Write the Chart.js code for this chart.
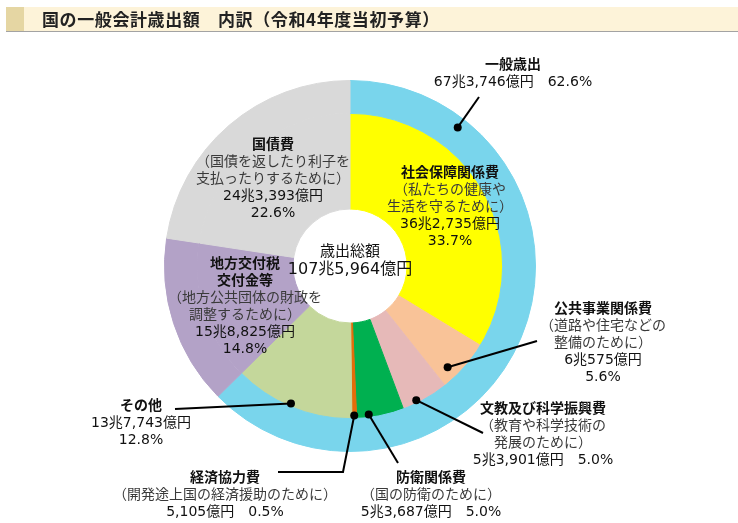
<!DOCTYPE html>
<html lang="ja">
<head>
<meta charset="utf-8">
<title>国の一般会計歳出額 内訳</title>
<script src="https://cdn.jsdelivr.net/npm/chart.js@4.4.1/dist/chart.umd.min.js"></script>
<style>
  html, body { margin: 0; padding: 0; background: #fff; }
  body { width: 738px; height: 523px; position: relative; overflow: hidden;
         font-family: "Noto Sans CJK JP", "Noto Sans", sans-serif; }
  #titleBar { position: absolute; left: 6px; top: 7px; width: 732px; height: 24px;
              background: #fdf3d9; border-bottom: 1px solid #a3a3a3; z-index: 2; }
  #titleBar .mark { position: absolute; left: 0; top: 0; width: 18px; height: 24px; background: #e5d6a3; }
  #titleBar h1 { position: absolute; left: 36px; top: 0; margin: 0; line-height: 24px;
                 font-size: 17px; font-weight: bold; color: #222; letter-spacing: 0.6px; white-space: nowrap; }
  #chart { position: absolute; left: 0; top: 0; }
</style>
</head>
<body>
<div id="titleBar"><div class="mark"></div><h1>国の一般会計歳出額　内訳（令和4年度当初予算）</h1></div>
<canvas id="chart" width="738" height="523"></canvas>
<script>
// ============= DATA =============
// 内訳（内側の輪）— 金額は億円
const categories = ['社会保障関係費', '公共事業関係費', '文教及び科学振興費', '防衛関係費',
                    '経済協力費', 'その他', '地方交付税交付金等', '国債費'];
const amounts = [362735, 60575, 53901, 53687, 5105, 137743, 158825, 243393];
const percents = [33.7, 5.6, 5.0, 5.0, 0.5, 12.8, 14.8, 22.6];
const notes = [
  ['（私たちの健康や', '生活を守るために）'],
  ['（道路や住宅などの', '整備のために）'],
  ['（教育や科学技術の', '発展のために）'],
  ['（国の防衛のために）'],
  ['（開発途上国の経済援助のために）'],
  [],
  ['（地方公共団体の財政を', '調整するために）'],
  ['（国債を返したり利子を', '支払ったりするために）']
];

// 外側の輪
const outerLabels = ['一般歳出', '地方交付税交付金等', '国債費'];
const outerAmounts = [673746, 158825, 243393];
const outerPercents = [62.6, 14.8, 22.6];

const totalLabel = '歳出総額';
const totalAmount = 1075964;

// ============= STYLE =============
const innerColors = ['#ffff00', '#f9c398', '#e6b9b8', '#00b050', '#e46c0a', '#c4d79b', '#b3a2c7', '#d9d9d9'];
const outerColors = ['#79d5ec', '#b3a2c7', '#d9d9d9'];
// wide latin digits (DejaVu), Japanese falls back to Noto CJK
const FONT = '"DejaVu Sans", "Noto Sans CJK JP", sans-serif';
const LINE = 17;

// label boxes: centre x, first line y; dot = where on the arc, to = leader path
const innerLayout = [
  { x: 450, y: 173 },
  { x: 603, y: 309, dot: { t: 0.73, dr: -12 }, to: [[537, 341]] },
  { x: 543, y: 409, inline: true, dot: { t: 0.68, dr: -3 }, to: [[483, 433]] },
  { x: 431, y: 478, inline: true, dot: { t: 0.74, dr: -3 }, to: [[398, 463]] },
  { x: 225, y: 478, inline: true, dot: { t: 0.5, dr: -3 }, to: [[343, 472], [278, 472]] },
  { x: 141, y: 406, dot: { t: 0.52, dr: -3 }, to: [[175, 409]] },
  { x: 245, y: 264, breakAt: 5 },
  { x: 273, y: 145 }
];
const outerLayout = [
  { x: 513, y: 65, inline: true, dot: { t: 0.168, dr: -10 }, to: [[479, 97]] }
];

function yen(v) {
  const cho = Math.floor(v / 10000);
  const oku = v % 10000;
  return (cho ? cho + '兆' : '') + oku.toLocaleString('en-US') + '億円';
}
function pct(p) { return p.toFixed(1) + '%'; }

function drawLabel(ctx, lay, name, amount, percent, note) {
  let y = lay.y;
  ctx.textAlign = 'center';
  ctx.textBaseline = 'middle';
  const heads = lay.breakAt ? [name.slice(0, lay.breakAt), name.slice(lay.breakAt)] : [name];
  ctx.font = 'bold 14px ' + FONT;
  ctx.fillStyle = '#111';
  heads.forEach(function(h) { ctx.fillText(h, lay.x, y); y += LINE; });
  ctx.font = '14px ' + FONT;
  ctx.fillStyle = '#3a3a3a';
  note.forEach(function(n) { ctx.fillText(n, lay.x, y); y += LINE; });
  ctx.fillStyle = '#111';
  if (lay.inline) {
    ctx.fillText(yen(amount) + '　' + pct(percent), lay.x, y);
  } else {
    ctx.fillText(yen(amount), lay.x, y); y += LINE;
    ctx.fillText(pct(percent), lay.x, y);
  }
}

function drawLeader(ctx, arc, lay) {
  if (!lay.dot) return;
  const p = arc.getProps(['x', 'y', 'startAngle', 'endAngle', 'outerRadius'], true);
  const a = p.startAngle + (p.endAngle - p.startAngle) * lay.dot.t;
  const r = p.outerRadius + lay.dot.dr;
  const dx = p.x + r * Math.cos(a);
  const dy = p.y + r * Math.sin(a);
  ctx.strokeStyle = '#000';
  ctx.lineWidth = 2;
  ctx.beginPath();
  ctx.moveTo(dx, dy);
  lay.to.forEach(function(pt) { ctx.lineTo(pt[0], pt[1]); });
  ctx.stroke();
  ctx.fillStyle = '#000';
  ctx.beginPath();
  ctx.arc(dx, dy, 4, 0, Math.PI * 2);
  ctx.fill();
}

const labelPlugin = {
  id: 'budgetLabels',
  afterDraw: function(chart) {
    const ctx = chart.ctx;
    const outerMeta = chart.getDatasetMeta(0);
    const innerMeta = chart.getDatasetMeta(1);
    ctx.save();

    innerLayout.forEach(function(lay, i) {
      drawLeader(ctx, innerMeta.data[i], lay);
      drawLabel(ctx, lay, categories[i], amounts[i], percents[i], notes[i]);
    });
    outerLayout.forEach(function(lay, i) {
      drawLeader(ctx, outerMeta.data[i], lay);
      drawLabel(ctx, lay, outerLabels[i], outerAmounts[i], outerPercents[i], []);
    });

    // centre text
    const c = innerMeta.data[0];
    ctx.textAlign = 'center';
    ctx.textBaseline = 'middle';
    ctx.fillStyle = '#111';
    ctx.font = '15px ' + FONT;
    ctx.fillText(totalLabel, c.x, c.y - 14);
    ctx.font = '16px ' + FONT;
    ctx.fillText(yen(totalAmount), c.x, c.y + 4);
    ctx.restore();
  }
};

new Chart(document.getElementById('chart'), {
  type: 'doughnut',
  data: {
    labels: categories,
    datasets: [
      {
        label: '外側',
        data: outerPercents,
        backgroundColor: outerColors,
        borderColor: outerColors,
        borderWidth: 1,
        weight: 33
      },
      {
        label: '内訳',
        data: percents,
        backgroundColor: innerColors,
        borderColor: innerColors,
        borderWidth: 1,
        weight: 96
      }
    ]
  },
  options: {
    responsive: false,
    animation: false,
    events: [],
    cutout: 57,
    layout: { padding: { left: 164, right: 202, top: 80, bottom: 71 } },
    plugins: {
      legend: { display: false },
      tooltip: { enabled: false }
    }
  },
  plugins: [labelPlugin]
});
</script>
</body>
</html>
